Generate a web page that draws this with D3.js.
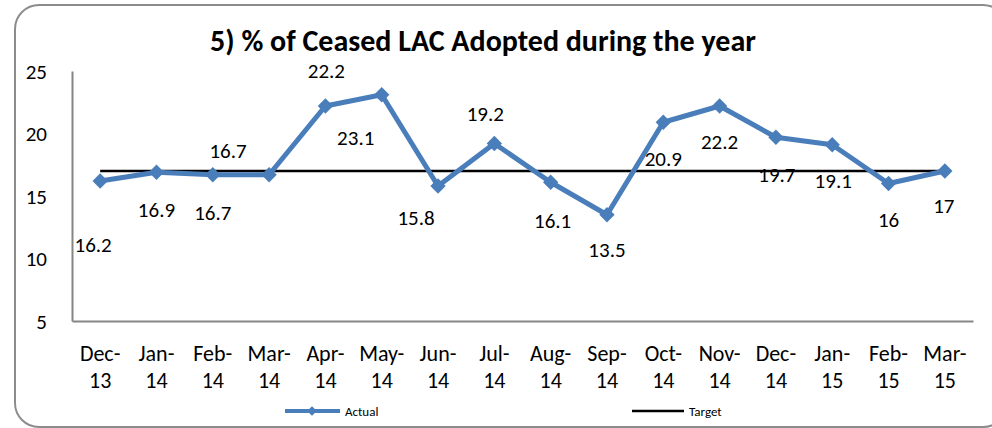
<!DOCTYPE html>
<html>
<head>
<meta charset="utf-8">
<script src="https://cdn.jsdelivr.net/npm/d3@7"></script>
<style>
  body { margin: 0; background: #fff; }
  svg text { font-family: Calibri, Carlito, Lato, "Open Sans", sans-serif; fill: #000; }
</style>
</head>
<body>
<div class="chart"></div>
<script>
// chart data
var months = ["Dec-13", "Jan-14", "Feb-14", "Mar-14", "Apr-14", "May-14", "Jun-14", "Jul-14",
  "Aug-14", "Sep-14", "Oct-14", "Nov-14", "Dec-14", "Jan-15", "Feb-15", "Mar-15"];
var actual = [16.2, 16.9, 16.7, 16.7, 22.2, 23.1, 15.8, 19.2, 16.1, 13.5, 20.9, 22.2, 19.7, 19.1, 16, 17];
var target = 17;
var yTicks = [5, 10, 15, 20, 25];

// where each data label sits relative to its point (Excel labels were dragged around)
var labelShift = [[-7, 64], [0, 37], [0, 38], [-41, -24], [1, -35], [-26, 43], [-22, 32], [-9, -30],
  [2, 38], [0, 35], [0, 36], [0, 36], [1, 37], [1, 36], [0, 36], [-1, 35]];

var svgWidth = 992;
var svgHeight = 428;
var margin = { top: 71, right: 19, bottom: 107, left: 72 };

var svg = d3.select(".chart")
  .append("svg")
  .attr("width", svgWidth)
  .attr("height", svgHeight);

// outer rounded frame
svg.append("rect")
  .attr("x", 15).attr("y", 5)
  .attr("width", 992).attr("height", 422)
  .attr("rx", 24)
  .attr("fill", "none")
  .attr("stroke", "#8c8c8c")
  .attr("stroke-width", 2);

var xScale = d3.scaleBand()
  .domain(months)
  .range([margin.left, svgWidth - margin.right]);
var yScale = d3.scaleLinear()
  .domain([5, 25])
  .range([svgHeight - margin.bottom, margin.top]);

function cx(d) { return xScale(d) + xScale.bandwidth() / 2; }

// title
svg.append("text")
  .attr("x", 483)
  .attr("y", 51)
  .attr("text-anchor", "middle")
  .attr("font-size", "30px")
  .attr("font-weight", "bold")
  .text("5) % of Ceased LAC Adopted during the year");

// axes
var leftAxis = d3.axisLeft(yScale).tickValues(yTicks).tickSize(0).tickPadding(25);
var bottomAxis = d3.axisBottom(xScale).tickSize(0).tickFormat("");

var gy = svg.append("g")
  .attr("transform", "translate(" + margin.left + ",0)")
  .call(leftAxis);
gy.selectAll("text").attr("font-size", "21px").attr("dy", "0.35em");

var gx = svg.append("g")
  .attr("transform", "translate(0," + (svgHeight - margin.bottom) + ")")
  .call(bottomAxis);

svg.selectAll(".domain").attr("stroke", "#868686").attr("stroke-width", 2);

// two-line month labels
gx.selectAll(".tick").each(function(d) {
  var parts = d.split("-");
  var t = d3.select(this).append("text")
    .attr("text-anchor", "middle")
    .attr("font-size", "22px");
  t.append("tspan").attr("x", 0).attr("y", 40).text(parts[0] + "-");
  t.append("tspan").attr("x", 0).attr("y", 67).text(parts[1]);
});

// target line
svg.append("line")
  .attr("x1", cx(months[0]))
  .attr("x2", cx(months[months.length - 1]))
  .attr("y1", yScale(target))
  .attr("y2", yScale(target))
  .attr("stroke", "#000")
  .attr("stroke-width", 2.5);

// actual line
var line = d3.line()
  .x(function(d, i) { return cx(months[i]); })
  .y(function(d) { return yScale(d); });

svg.append("path")
  .datum(actual)
  .attr("d", line)
  .attr("fill", "none")
  .attr("stroke", "#4a7ebb")
  .attr("stroke-width", 5)
  .attr("stroke-linejoin", "round");

var diamond = d3.symbol().type(d3.symbolDiamond2).size(150);

svg.selectAll(".marker")
  .data(actual)
  .enter()
  .append("path")
  .attr("class", "marker")
  .attr("d", diamond)
  .attr("transform", function(d, i) {
    return "translate(" + cx(months[i]) + "," + yScale(d) + ")";
  })
  .attr("fill", "#4a7ebb");

// data labels
svg.selectAll(".dlabel")
  .data(actual)
  .enter()
  .append("text")
  .attr("class", "dlabel")
  .attr("x", function(d, i) { return cx(months[i]) + labelShift[i][0]; })
  .attr("y", function(d, i) { return yScale(d) + labelShift[i][1]; })
  .attr("dy", "0.35em")
  .attr("text-anchor", "middle")
  .attr("font-size", "21px")
  .text(function(d) { return d; });

// legend
var legend = svg.append("g").attr("transform", "translate(0,411)");
legend.append("line")
  .attr("x1", 285).attr("x2", 340)
  .attr("stroke", "#4a7ebb").attr("stroke-width", 4);
legend.append("path")
  .attr("d", d3.symbol().type(d3.symbolDiamond2).size(60))
  .attr("transform", "translate(312,0)")
  .attr("fill", "#4a7ebb");
legend.append("text")
  .attr("x", 345).attr("dy", "0.35em")
  .attr("font-size", "13px")
  .text("Actual");
legend.append("line")
  .attr("x1", 632).attr("x2", 684)
  .attr("stroke", "#000").attr("stroke-width", 2.5);
legend.append("text")
  .attr("x", 689).attr("dy", "0.35em")
  .attr("font-size", "13px")
  .text("Target");
</script>
</body>
</html>
